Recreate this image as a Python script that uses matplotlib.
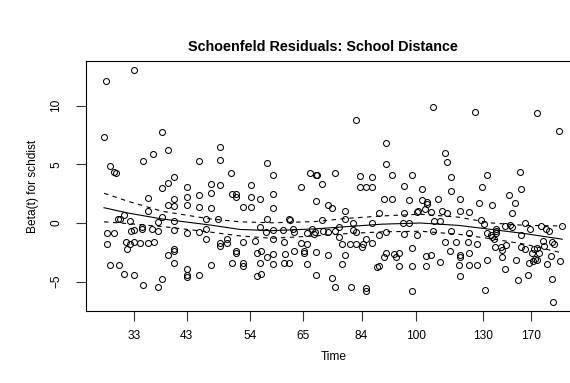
"""
Schoenfeld residuals plot for the school distance covariate (cox.zph style).
"""
import matplotlib
matplotlib.use("Agg")
import matplotlib.pyplot as plt

plt.rcParams['font.family'] = ['Liberation Sans', 'DejaVu Sans']

# Residual points: x is the KM-transformed time, y is beta(t) for schdist.
time_km = [
    0.067, 0.004, 0.001, 0.128, 0.141, 0.109, 0.086, 0.210, 0.014, 0.023,
    0.026, 0.155, 0.141, 0.128, 0.184, 0.237, 0.237, 0.211, 0.184, 0.155,
    0.098, 0.141, 0.155, 0.184, 0.211, 0.237, 0.098, 0.044, 0.032, 0.035,
    0.057, 0.128, 0.155, 0.119, 0.227, 0.007, 0.023, 0.060, 0.067, 0.084,
    0.085, 0.107, 0.119, 0.155, 0.184, 0.211, 0.227, 0.227, 0.007, 0.049,
    0.057, 0.066, 0.051, 0.080, 0.097, 0.110, 0.155, 0.155, 0.141, 0.155,
    0.014, 0.033, 0.044, 0.067, 0.184, 0.184, 0.184, 0.211, 0.237, 0.128,
    0.086, 0.119, 0.257, 0.257, 0.361, 0.282, 0.375, 0.457, 0.469, 0.257,
    0.326, 0.437, 0.483, 0.283, 0.292, 0.292, 0.326, 0.345, 0.375, 0.469,
    0.308, 0.326, 0.375, 0.253, 0.361, 0.410, 0.412, 0.484, 0.345, 0.360,
    0.375, 0.397, 0.419, 0.421, 0.449, 0.462, 0.466, 0.486, 0.257, 0.257,
    0.273, 0.273, 0.308, 0.335, 0.375, 0.400, 0.437, 0.450, 0.292, 0.292,
    0.339, 0.347, 0.361, 0.375, 0.401, 0.421, 0.443, 0.444, 0.469, 0.283,
    0.308, 0.308, 0.345, 0.375, 0.400, 0.410, 0.450, 0.339, 0.347, 0.469,
    0.558, 0.625, 0.625, 0.730, 0.472, 0.512, 0.567, 0.594, 0.639, 0.682,
    0.567, 0.580, 0.594, 0.665, 0.704, 0.620, 0.639, 0.676, 0.704, 0.716,
    0.496, 0.505, 0.534, 0.610, 0.665, 0.694, 0.697, 0.712, 0.725, 0.534,
    0.551, 0.594, 0.663, 0.676, 0.731, 0.468, 0.497, 0.512, 0.521, 0.551,
    0.558, 0.610, 0.626, 0.665, 0.694, 0.730, 0.521, 0.528, 0.545, 0.558,
    0.574, 0.573, 0.580, 0.594, 0.496, 0.534, 0.626, 0.620, 0.644, 0.647,
    0.653, 0.682, 0.715, 0.725, 0.528, 0.605, 0.610, 0.653, 0.682, 0.715,
    0.505, 0.512, 0.548, 0.580, 0.580, 0.682, 0.823, 0.960, 0.755, 0.761,
    0.769, 0.849, 0.922, 1.008, 0.769, 0.839, 0.925, 0.898, 0.741, 0.789,
    0.716, 0.831, 0.860, 0.911, 0.750, 0.761, 0.789, 0.809, 0.904, 0.744,
    0.836, 0.842, 0.888, 0.900, 0.905, 0.933, 0.969, 0.979, 0.987, 0.769,
    0.809, 0.849, 0.857, 0.860, 0.864, 0.869, 0.869, 0.870, 0.925, 0.944,
    0.973, 0.975, 0.993, 0.997, 0.755, 0.780, 0.806, 0.826, 0.867, 0.880,
    0.883, 0.891, 0.925, 0.933, 0.953, 0.960, 0.948, 0.965, 0.767, 0.809,
    0.790, 0.790, 0.744, 0.990, 0.849, 0.882, 0.914, 0.786, 0.809, 0.826,
    0.888, 0.942, 0.951, 0.956, 0.960, 0.982, 0.790, 0.917, 0.941, 0.994,
    0.845, 0.996, 1.016, 1.011,
]
beta = [
    13.00, 12.09, 7.32, 7.74, 6.24, 5.85, 5.30, 5.25, 4.85, 4.34,
    4.28, 3.91, 3.38, 2.95, 3.09, 3.32, 2.58, 2.41, 2.24, 2.07,
    2.13, 1.51, 1.45, 1.51, 1.39, 1.30, 1.05, 0.66, 0.37, 0.31,
    0.20, 0.54, 0.20, 0.09, 0.37, -0.83, -0.83, -0.66, -0.60, -0.37,
    -0.54, -0.49, -0.71, -0.60, -0.83, -0.77, -0.49, -1.39, -1.79, -1.62,
    -1.79, -1.62, -2.24, -1.73, -1.73, -1.62, -2.24, -2.36, -2.75, -3.43,
    -3.60, -3.55, -4.34, -4.45, -3.89, -4.45, -4.57, -4.40, -3.55, -4.74,
    -5.30, -5.47, 6.44, 5.39, 5.08, 4.28, 4.11, 4.28, 4.11, 3.21,
    3.21, 3.09, 3.32, 2.47, 2.47, 2.24, 2.24, 2.02, 2.47, 1.85,
    1.34, 1.39, 1.28, 0.31, 0.37, 0.31, 0.26, 0.26, -0.31, -0.77,
    -0.60, -0.60, -0.54, -0.77, -0.83, -0.54, -0.94, -0.71, -1.68, -1.96,
    -1.39, -1.68, -1.62, -1.51, -1.39, -1.62, -1.68, -1.79, -2.41, -2.58,
    -2.58, -2.41, -2.92, -2.64, -2.64, -2.41, -2.53, -2.41, -2.47, -3.43,
    -3.38, -3.66, -3.38, -3.49, -3.38, -3.43, -3.49, -4.51, -4.34, -4.45,
    8.77, 6.83, 5.02, 9.85, 4.06, 4.23, 4.00, 3.94, 4.11, 4.06,
    3.09, 3.09, 3.09, 3.15, 2.92, 2.07, 2.02, 1.96, 1.96, 1.79,
    1.51, 1.28, 1.05, 0.83, 0.83, 0.94, 1.05, 1.22, 0.94, 0.31,
    -0.03, -0.03, 0.03, -0.03, 0.20, -0.77, -0.77, -0.71, -0.37, -0.60,
    -0.77, -1.00, -0.77, -0.94, -1.05, -0.66, -1.17, -1.79, -1.79, -1.79,
    -1.79, -2.07, -1.39, -1.73, -2.70, -2.70, -2.58, -2.92, -2.64, -2.92,
    -2.53, -2.13, -2.81, -2.75, -3.49, -3.77, -3.66, -3.66, -3.66, -3.66,
    -4.68, -5.47, -5.47, -5.53, -5.76, -5.81, 9.45, 9.39, 5.93, 5.19,
    3.89, 4.06, 4.34, 7.86, 2.70, 3.04, 2.87, 2.41, 2.07, 2.07,
    1.62, 1.73, 1.56, 1.73, 1.00, 0.88, 1.05, 0.94, 0.83, 0.14,
    0.26, -0.09, -0.26, -0.20, -0.31, 0.03, -0.26, -0.49, -0.71, -0.66,
    -0.88, -0.88, -1.05, -1.22, -1.34, -0.66, -0.49, -0.83, -1.05, -0.54,
    -1.51, -1.96, -1.62, -1.79, -1.62, -1.62, -1.62, -1.79, -2.02, -2.07,
    -2.30, -1.90, -2.07, -2.19, -2.19, -2.13, -2.58, -2.58, -2.36, -2.58,
    -2.75, -2.92, -3.32, -2.81, -3.15, -2.92, -3.15, -3.60, -3.60, -3.55,
    -3.94, -3.43, -3.26, -3.09, -3.15, -3.49, -4.51, -4.85, -4.40, -4.74,
    -5.70, -6.72, -0.28, -3.23,
]

# Smoothed fit and its confidence band, read at a few KM-time positions.
fit_km = [0.0, 0.053, 0.129, 0.231, 0.302, 0.373, 0.468, 0.541, 0.616,
          0.701, 0.785, 0.860, 0.933, 1.016]
fit = [1.30, 0.85, 0.34, -0.15, -0.55, -0.65, -0.50, -0.30, -0.10,
       0.00, -0.20, -0.55, -0.90, -1.38]
fit_upper = [2.53, 1.85, 1.00, 0.37, 0.10, 0.02, 0.12, 0.40, 0.60,
             0.75, 0.50, 0.00, -0.20, -0.25]
fit_lower = [0.10, -0.05, -0.30, -0.75, -1.10, -1.30, -1.10, -0.90, -0.75,
             -0.70, -0.95, -1.35, -1.80, -2.55]

# Time axis labels and where they fall on the KM scale.
tick_km = [0.066, 0.183, 0.324, 0.441, 0.571, 0.692, 0.840, 0.946]
tick_labels = ['33', '43', '54', '65', '84', '100', '130', '170']

fig = plt.figure(figsize=(5.7, 3.83), dpi=100)
# The plot box runs past the right edge of the image, as in the original.
ax = fig.add_axes([86 / 570, 1 - 311 / 383, 495 / 570, 250 / 383])

ax.plot(time_km, beta, linestyle='none', marker='o', markersize=4.3,
        markerfacecolor='none', markeredgecolor='black', markeredgewidth=0.75)
ax.plot(fit_km, fit, color='black', linewidth=0.8)
ax.plot(fit_km, fit_upper, color='black', linewidth=0.8, dashes=(4, 4))
ax.plot(fit_km, fit_lower, color='black', linewidth=0.8, dashes=(4, 4))

ax.set_xlim(-0.04, 1.0576)
ax.set_ylim(-7.49, 13.79)

ax.set_xticks(tick_km)
ax.set_xticklabels(tick_labels)
ax.set_yticks([-5, 0, 5, 10])
ax.set_yticklabels(['\u22125', '0', '5', '10'], rotation=90, va='center')

for side in ax.spines.values():
    side.set_linewidth(0.8)
ax.tick_params(axis='both', length=7, width=0.8, labelsize=8.6, color='#333333')
ax.tick_params(axis='x', pad=7)
ax.tick_params(axis='y', pad=10)

ax.set_xlabel('Time', fontsize=8.6, labelpad=6)
ax.set_ylabel('Beta(t) for schdist', fontsize=8.6, labelpad=8)
fig.text(323 / 570, 1 - 47 / 383, 'Schoenfeld Residuals: School Distance',
         ha='center', va='center', fontsize=10.4, fontweight='bold')

plt.savefig('out.png', dpi=100)
